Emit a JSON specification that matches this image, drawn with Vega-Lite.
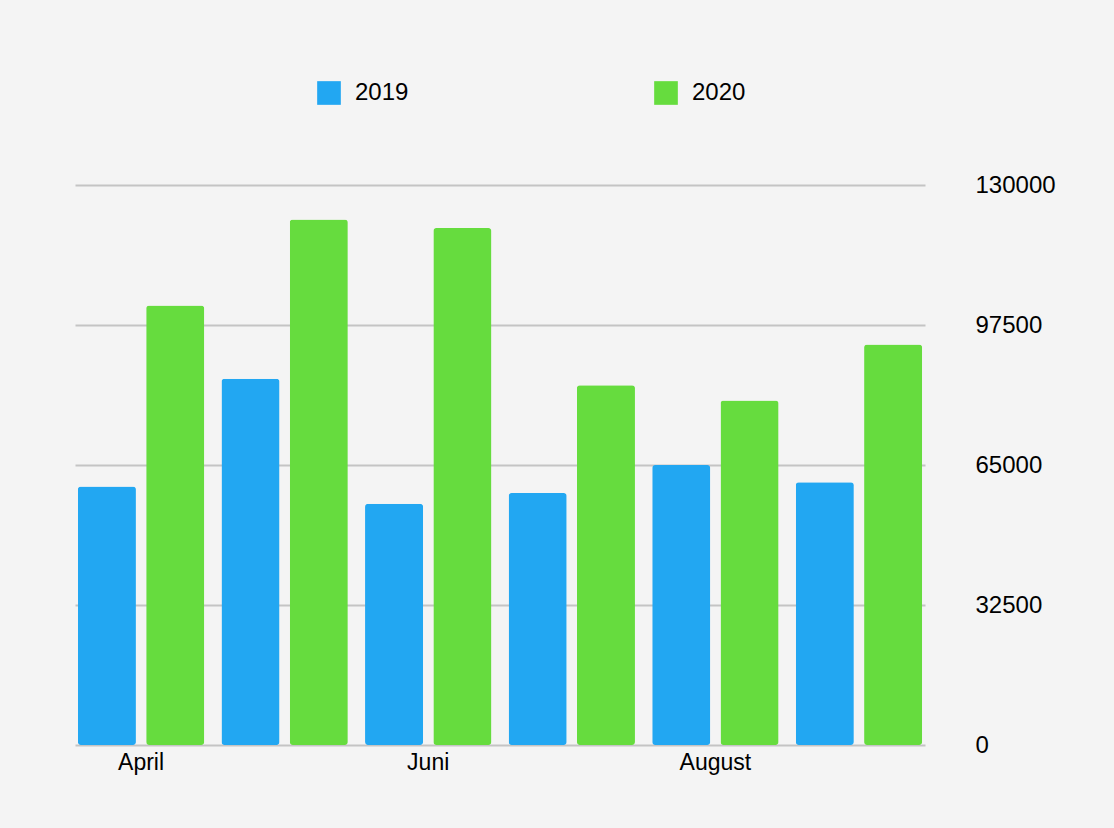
{
  "$schema": "https://vega.github.io/schema/vega-lite/v6.json",
  "autosize": {"type": "none"},
  "width": 850,
  "height": 560,
  "padding": {"left": 75, "top": 185, "right": 189, "bottom": 83},
  "background": "#f4f4f4",
  "config": {
    "view": {"stroke": null},
    "font": "Liberation Sans"
  },
  "data": {
    "values": [
      {"month": "April", "year": "2019", "value": 60000},
      {"month": "April", "year": "2020", "value": 102000},
      {"month": "Mai", "year": "2019", "value": 85000},
      {"month": "Mai", "year": "2020", "value": 122000},
      {"month": "Juni", "year": "2019", "value": 56000},
      {"month": "Juni", "year": "2020", "value": 120000},
      {"month": "Juli", "year": "2019", "value": 58500},
      {"month": "Juli", "year": "2020", "value": 83500},
      {"month": "August", "year": "2019", "value": 65000},
      {"month": "August", "year": "2020", "value": 80000},
      {"month": "September", "year": "2019", "value": 61000},
      {"month": "September", "year": "2020", "value": 93000}
    ]
  },
  "mark": {"type": "bar", "cornerRadius": 3},
  "encoding": {
    "x": {
      "field": "month",
      "type": "nominal",
      "sort": ["April", "Mai", "Juni", "Juli", "August", "September"],
      "scale": {"paddingInner": 0.12, "paddingOuter": 0.02},
      "axis": {
        "title": null,
        "domain": false,
        "ticks": false,
        "labelAngle": 0,
        "labelFontSize": 23,
        "labelColor": "#000000",
        "labelPadding": 6,
        "labelExpr": "indexof(['April','Juni','August'], datum.value) >= 0 ? datum.value : ''"
      }
    },
    "xOffset": {
      "field": "year",
      "type": "nominal",
      "scale": {"paddingInner": 0.15}
    },
    "y": {
      "field": "value",
      "type": "quantitative",
      "scale": {"domain": [0, 130000], "nice": false},
      "axis": {
        "orient": "right",
        "title": null,
        "values": [0, 32500, 65000, 97500, 130000],
        "format": "d",
        "domain": false,
        "ticks": false,
        "grid": true,
        "gridColor": "#c4c4c4",
        "gridWidth": 2,
        "labelFontSize": 24,
        "labelColor": "#000000",
        "labelPadding": 50
      }
    },
    "color": {
      "field": "year",
      "type": "nominal",
      "scale": {"domain": ["2019", "2020"], "range": ["#22a7f2", "#66dc3e"]},
      "legend": {
        "title": null,
        "orient": "none",
        "legendX": 242,
        "legendY": -104,
        "direction": "horizontal",
        "symbolType": "square",
        "symbolSize": 560,
        "symbolStrokeWidth": 0,
        "labelFontSize": 24,
        "labelColor": "#000000",
        "labelOffset": 14,
        "columnPadding": 245
      }
    }
  }
}
